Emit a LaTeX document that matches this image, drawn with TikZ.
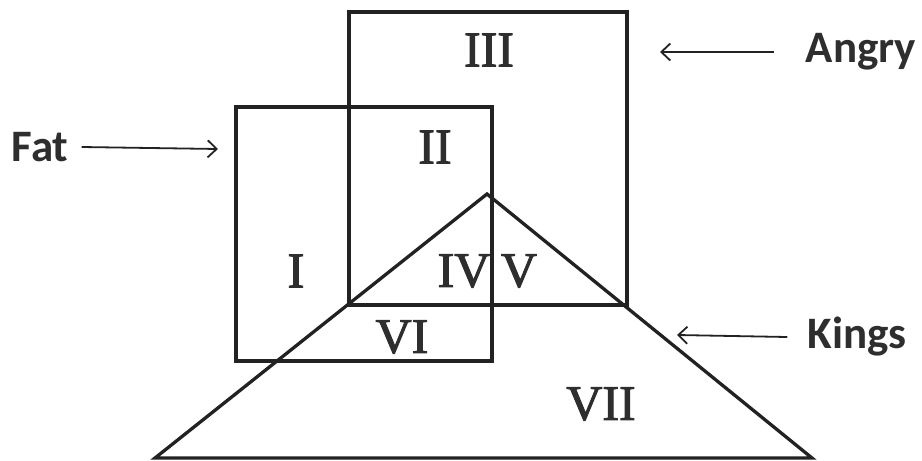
\documentclass[tikz,border=0pt]{standalone}
\usepackage{fontspec}
\setmainfont{Liberation Serif}
\newfontfamily\numfont{Liberation Serif}[FakeBold=2]
\newfontfamily\lblfont{Carlito}
\usetikzlibrary{arrows.meta}
\definecolor{ink}{HTML}{222222}
\definecolor{txt}{HTML}{2E2E2E}
\begin{document}
\begin{tikzpicture}[x=1pt,y=-1pt,
  shape line/.style={draw=ink,line width=3.3pt,line join=miter},
  pointer/.style={draw=ink,line width=1.8pt,-{Straight Barb[length=9pt,width=17pt,line width=1.8pt]}},
  region/.style={text=txt,font=\numfont\fontsize{50}{50}\selectfont,inner sep=0pt},
  setname/.style={text=txt,font=\lblfont\bfseries\fontsize{45}{45}\selectfont,inner sep=0pt}]
\useasboundingbox (0,0) rectangle (922,461);
% Angry square
\coordinate (a1) at (349,12); \coordinate (a2) at (627,305);
\draw[shape line] (a1) rectangle (a2);
% Fat rectangle
\coordinate (f1) at (236,107); \coordinate (f2) at (492,361);
\draw[shape line] (f1) rectangle (f2);
% Kings triangle
\coordinate (k1) at (487,194); \coordinate (k2) at (155,458); \coordinate (k3) at (812,458);
\draw[shape line] (k1) -- (k2) -- (k3) -- cycle;
% region labels
\node[region] (r3) at (489,50) {III};
\node[region] (r2) at (435,147) {II};
\node[region] (r1) at (296,271) {I};
\node[region] (r4) at (464,271) {IV};
\node[region] (r5) at (519,271) {V};
\node[region] (r6) at (402,337) {VI};
\node[region] (r7) at (601,404) {VII};
% set names
\node[setname] (fat) at (40,147) {Fat};
\node[setname] (angry) at (861,52) {Angry};
\node[setname] (kings) at (857,337) {Kings};
\coordinate (fattip) at (218,149);
\coordinate (angrytip) at (660,52);
\coordinate (kingstip) at (677,335);
\draw[pointer] (fat.east) ++(13,0) -- (fattip);
\draw[pointer] (angry.west) ++(-32,0) -- (angrytip);
\draw[pointer] (kings.west) ++(-20,0) -- (kingstip);
\end{tikzpicture}
\end{document}
